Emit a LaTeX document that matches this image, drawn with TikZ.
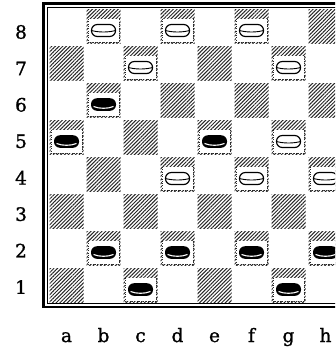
\documentclass[tikz,border=0pt]{standalone}
\usepackage{fontspec}
\newfontfamily\lblfont[FakeBold=1.2]{DejaVu Serif}
\usetikzlibrary{patterns.meta}
\begin{document}
\begin{tikzpicture}[x=1pt,y=-1pt,
  hatch/.style={pattern={Lines[angle=45,distance=2.6pt,line width=1pt]},pattern color=black!85},
  dotbox/.style={line width=0.8pt,dash pattern=on 0.9pt off 1.4pt,black!85},
  lbl/.style={font=\lblfont\fontsize{18.5pt}{18.5pt}\selectfont,inner sep=0pt},
  whitepc/.pic={
    \draw[line width=1.2pt,fill=white,rounded corners=5.8pt] (-12,-6) rectangle (12,6);
    \draw[line width=0.9pt] (-12,0) .. controls (-5,2) and (5,2) .. (12,0);
  },
  blackpc/.pic={
    \fill[black,rounded corners=6pt] (-12.5,-6.3) rectangle (12.5,6.3);
    \draw[white,line width=1.1pt] (-10,2) .. controls (-4,4.4) and (4,4.4) .. (10,2);
  }]
\useasboundingbox (0,0) rectangle (335,348);
\clip (0,0) rectangle (335,348);
% dark squares
\foreach \c in {1,...,8}{
  \foreach \r in {1,...,8}{
    \pgfmathtruncatemacro\pp{mod(\c+\r,2)}
    \ifnum\pp=0
      \fill[hatch] ({48+(\c-1)*37+1.5},{8+(8-\r)*37+1.5}) rectangle ++(34,34);
    \fi
  }
}
% pieces
\foreach \c/\r/\t in {2/8/w,4/8/w,6/8/w,3/7/w,7/7/w,2/6/b,1/5/b,5/5/b,7/5/w,4/4/w,6/4/w,8/4/w,2/2/b,4/2/b,6/2/b,8/2/b,3/1/b,7/1/b}{
  \pgfmathsetmacro\cx{48+(\c-1)*37+18.5}
  \pgfmathsetmacro\ty{8+(8-\r)*37}
  \fill[white] (\cx-15.5,\ty+11) rectangle (\cx+15.5,\ty+34);
  \draw[dotbox] (\cx-15.5,\ty+11) -- (\cx-15.5,\ty+34) -- (\cx+15.5,\ty+34) -- (\cx+15.5,\ty+11);
  \if\t w
    \pic (pc\c\r) at (\cx,\ty+22.5) {whitepc};
  \else
    \pic (pc\c\r) at (\cx,\ty+22.5) {blackpc};
  \fi
}
% frame
\draw[line width=0.9pt] (47,7) rectangle (345,303.5);
\draw[line width=2.2pt] (43.5,3.5) rectangle (349,307);
% labels
\foreach \r in {1,...,8}{
  \node[lbl] (rank\r) at (21,{32+(8-\r)*36.43}) {\r};
}
\foreach \c/\l in {1/a,2/b,3/c,4/d,5/e,6/f,7/g,8/h}{
  \node[lbl,anchor=base] (file\c) at ({48+(\c-1)*37+18.5},342) {\l};
}
\end{tikzpicture}
\end{document}
